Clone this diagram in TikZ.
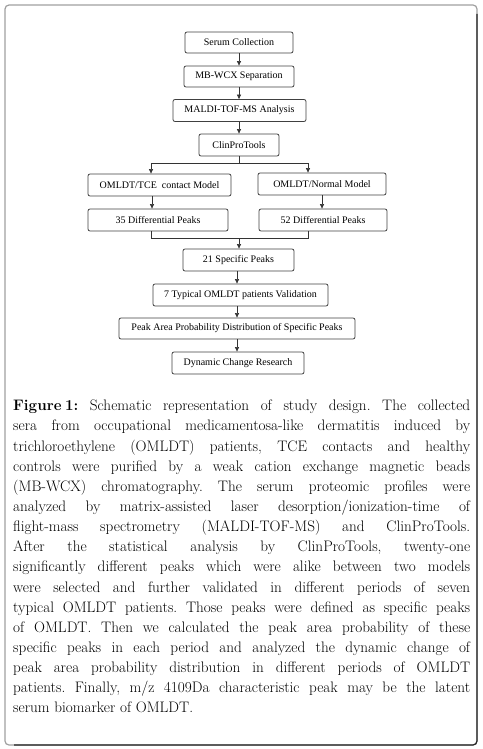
\documentclass[tikz,border=0pt]{standalone}
\usepackage{fontspec}
\newfontfamily\boxfont{Liberation Serif}
\usetikzlibrary{arrows.meta}
\tikzset{
  flowbox/.style={draw=black!75, line width=0.8pt, rounded corners=2pt, fill=white,
    inner sep=0pt, font=\boxfont\fontsize{10}{12}\selectfont, anchor=center},
  ln/.style={draw=black!80, line width=0.6pt},
  arr/.style={ln, -{Triangle[length=4.5pt,width=4pt]}},
  capline/.style={anchor=base west, inner sep=0pt, font=\fontsize{15.2}{20}\selectfont\frenchspacing},
}
\newcommand{\capw}[1]{\hbox to 457pt{#1}}
\begin{document}
\begin{tikzpicture}[x=1pt,y=-1pt]
\useasboundingbox (0,0) rectangle (482,749);
% outer frame
\draw[gray!75, line width=1.2pt, rounded corners=4pt] (5,5) rectangle (477,745);
\draw[black!85, line width=1.2pt, rounded corners=4pt] (477,14) -- (477,745) -- (14,745);

% flow boxes
\node[flowbox, minimum width=108pt, minimum height=21pt] (sc) at (239,42.5) {Serum Collection};
\node[flowbox, minimum width=110pt, minimum height=21pt] (mb) at (239,76.5) {MB-WCX Separation};
\node[flowbox, minimum width=133pt, minimum height=22pt] (ma) at (239.5,110.5) {MALDI-TOF-MS Analysis};
\node[flowbox, minimum width=80pt, minimum height=22pt] (cp) at (239,145) {ClinProTools};
\node[flowbox, minimum width=143pt, minimum height=22pt] (tce) at (159.5,185) {OMLDT/TCE\ \ contact Model};
\node[flowbox, minimum width=128pt, minimum height=22pt] (nor) at (322,184) {OMLDT/Normal Model};
\node[flowbox, minimum width=140pt, minimum height=22pt] (p35) at (158,220) {35 Differential Peaks};
\node[flowbox, minimum width=128pt, minimum height=22pt] (p52) at (323,220) {52 Differential Peaks};
\node[flowbox, minimum width=111pt, minimum height=22pt] (sp) at (238.5,260) {21 Specific Peaks};
\node[flowbox, minimum width=175pt, minimum height=22pt] (ty) at (240.5,295) {7 Typical OMLDT patients Validation};
\node[flowbox, minimum width=236pt, minimum height=21pt] (pa) at (237,328.5) {Peak Area Probability Distribution of Specific Peaks};
\node[flowbox, minimum width=132pt, minimum height=22pt] (dy) at (238,363) {Dynamic Change Research};

% helper coordinates
\coordinate (jL) at (151,163);
\coordinate (jR) at (308,163);
\coordinate (mL) at (151,238);
\coordinate (mR) at (308,238);
\coordinate (mC) at (239,238);
\coordinate (aL) at (152,0);
\coordinate (aR) at (322,0);
\coordinate (vC) at (237,0);

% connectors
\draw[arr] (sc.south) -- (mb.north);
\draw[arr] (mb.south) -- (mb.south |- ma.north);
\draw[arr] (ma.south -| mb.south) -- (mb.south |- cp.north);
\draw[ln] (cp.south) -- (cp.south |- jL);
\draw[ln] (jL) -- (jR);
\draw[arr] (jL) -- (jL |- tce.north);
\draw[arr] (jR) -- (jR |- nor.north);
\draw[arr] (aL |- tce.south) -- (aL |- p35.north);
\draw[arr] (aR |- nor.south) -- (aR |- p52.north);
\draw[ln] (mL |- p35.south) -- (mL) -- (mR) -- (mR |- p52.south);
\draw[arr] (mC) -- (mC |- sp.north);
\draw[arr] (vC |- sp.south) -- (vC |- ty.north);
\draw[arr] (vC |- ty.south) -- (vC |- pa.north);
\draw[arr] (vC |- pa.south) -- (vC |- dy.north);

% caption
\node[capline] (c1) at (13,410.7) {\capw{\textbf{Figure\kern3.5pt 1:} Schematic representation of study design. The collected}};
\node[capline] (c2) at (13,430.85) {\capw{sera from occupational medicamentosa-like dermatitis induced by}};
\node[capline] (c3) at (13,451.0) {\capw{trichloroethylene (OMLDT) patients, TCE contacts and healthy}};
\node[capline] (c4) at (13,471.15) {\capw{controls were purified by a weak cation exchange magnetic beads}};
\node[capline] (c5) at (13,491.3) {\capw{(MB-WCX) chromatography. The serum proteomic profiles were}};
\node[capline] (c6) at (13,511.45) {\capw{analyzed by matrix-assisted laser desorption/ionization-time of}};
\node[capline] (c7) at (13,531.6) {\capw{flight-mass spectrometry (MALDI-TOF-MS) and ClinProTools.}};
\node[capline] (c8) at (13,551.75) {\capw{After the statistical analysis by ClinProTools, twenty-one}};
\node[capline] (c9) at (13,571.9) {\capw{significantly different peaks which were alike between two models}};
\node[capline] (c10) at (13,592.05) {\capw{were selected and further validated in different periods of seven}};
\node[capline] (c11) at (13,612.2) {\capw{typical OMLDT patients. Those peaks were defined as specific peaks}};
\node[capline] (c12) at (13,632.35) {\capw{of OMLDT. Then we calculated the peak area probability of these}};
\node[capline] (c13) at (13,652.5) {\capw{specific peaks in each period and analyzed the dynamic change of}};
\node[capline] (c14) at (13,672.65) {\capw{peak area probability distribution in different periods of OMLDT}};
\node[capline] (c15) at (13,692.8) {\capw{patients. Finally, m/z 4109Da characteristic peak may be the latent}};
\node[capline] (c16) at (13,712.95) {serum biomarker of OMLDT.};
\end{tikzpicture}
\end{document}
